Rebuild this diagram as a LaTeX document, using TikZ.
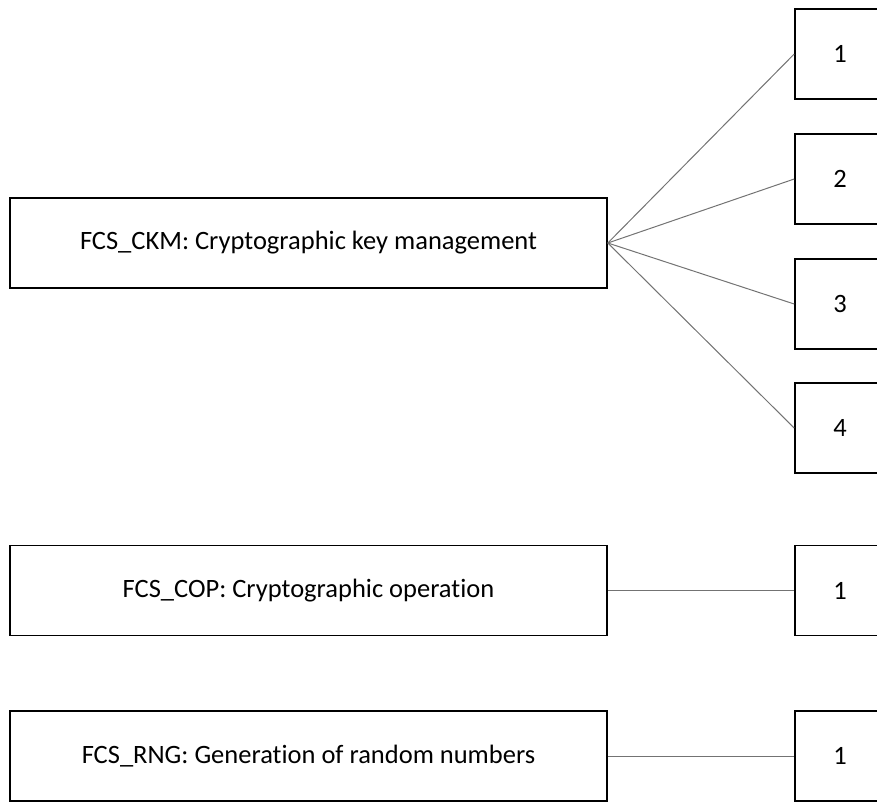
\documentclass[tikz,border=0pt]{standalone}
\usepackage{fontspec}
\setmainfont[Ligatures={NoCommon}]{Carlito}
\begin{document}
\begin{tikzpicture}[x=1pt,y=-1pt,
  bigbox/.style={draw=black,line width=1.6pt,minimum width=597pt,minimum height=90pt,inner sep=0pt,font=\fontsize{26.5}{30}\selectfont},
  numbox/.style={draw=black,line width=1.6pt,minimum width=90pt,minimum height=90pt,inner sep=0pt,font=\fontsize{26.5}{30}\selectfont},
  link/.style={draw=black!55,line width=1pt}]
\useasboundingbox (0,0) rectangle (877,801);
\clip (0,0) rectangle (877,801);
\node[bigbox] (ckm) at (308.5,243) {FCS\_CKM: Cryptographic key management};
\node[bigbox] (cop) at (308.5,590.5) {FCS\_COP: Cryptographic operation};
\node[bigbox] (rng) at (308.5,756) {FCS\_RNG: Generation of random numbers};
\node[numbox] (k1) at (840,54) {1};
\node[numbox] (k2) at (840,179) {2};
\node[numbox] (k3) at (840,304) {3};
\node[numbox] (k4) at (840,428) {4};
\node[numbox] (c1) at (840,590.5) {1};
\node[numbox] (r1) at (840,756) {1};
\foreach \t in {k1,k2,k3,k4} \draw[link] (ckm.east) -- (\t.west);
\draw[link] (cop) -- (c1);
\draw[link] (rng) -- (r1);
\end{tikzpicture}
\end{document}
